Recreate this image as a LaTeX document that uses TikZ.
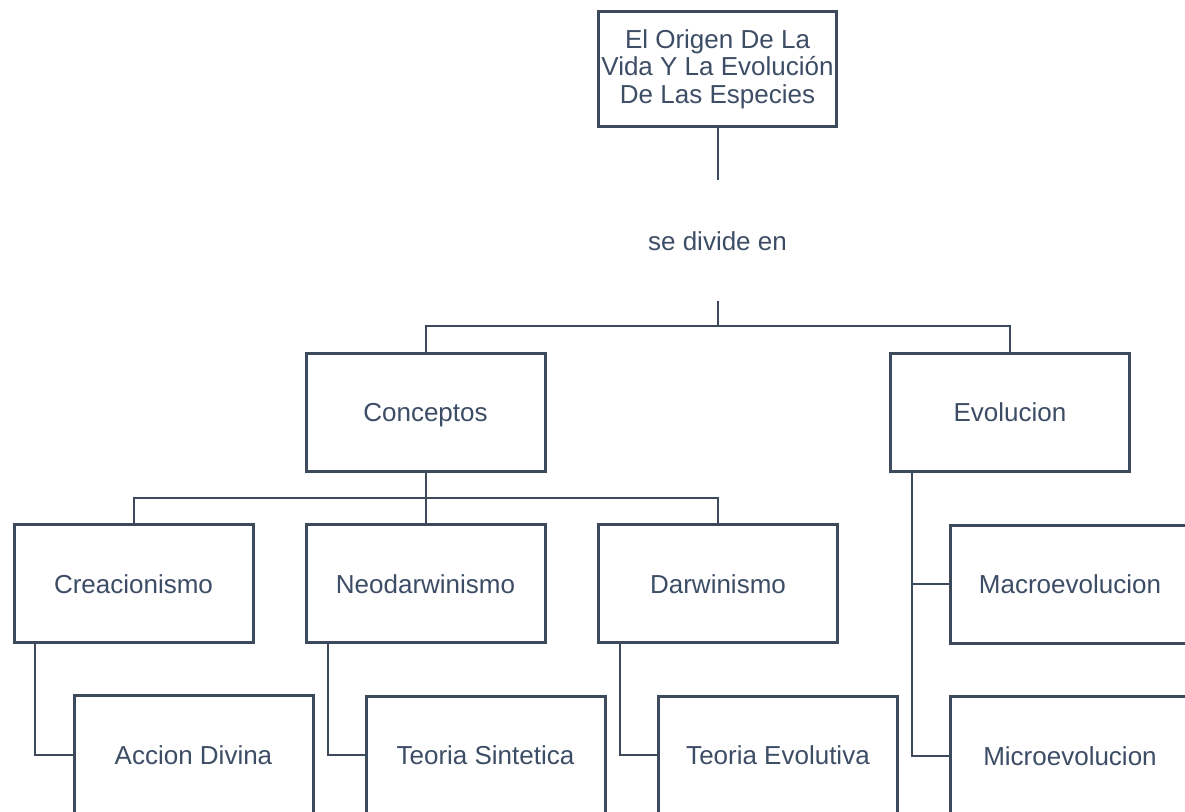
\documentclass[tikz,border=0pt]{standalone}
\usepackage{fontspec}
\setmainfont{Liberation Sans}
\begin{document}
\begin{tikzpicture}[x=1pt,y=-1pt,
  every node/.style={text=txtc},
  box/.style={draw=linec, line width=3pt, fill=white, minimum width=239pt, minimum height=118pt,
    inner sep=0pt, font=\fontsize{26}{28}\selectfont, text height=19pt, text depth=0pt},
  topbox/.style={draw=linec, line width=3pt, fill=white, minimum width=238pt, minimum height=115pt,
    inner sep=0pt, align=center, font=\fontsize{26}{27.5}\selectfont},
  lbl/.style={minimum height=121pt, inner sep=0pt, font=\fontsize{26}{28}\selectfont, text height=19pt, text depth=0pt},
  conn/.style={draw=linec, line width=2pt, line join=miter}
]
\definecolor{linec}{HTML}{3D4A5C}
\definecolor{txtc}{HTML}{3D4D65}
\useasboundingbox (0,0) rectangle (1185,811);
\clip (0,0) rectangle (1185,811);

\node[topbox] (top) at (717.5,69) {El Origen De La\\Vida Y La Evolución\\De Las Especies};
\node[lbl] (lbl) at (717.5,240.5) {se divide en};

\node[box] (conc) at (425.5,412) {Conceptos};
\node[box] (evol) at (1010,412) {Evolucion};

\node[box] (crea) at (133.5,583.5) {Creacionismo};
\node[box] (neo) at (425.5,583.5) {Neodarwinismo};
\node[box] (darw) at (718,583.5) {Darwinismo};
\node[box] (macro) at (1070,584) {Macroevolucion};

\node[box] (acc) at (193.5,754.5) {Accion Divina};
\node[box] (ts) at (485.5,755) {Teoria Sintetica};
\node[box] (te) at (778,755) {Teoria Evolutiva};
\node[box] (micro) at (1070,755.5) {Microevolucion};

\coordinate (b1) at (717.5,326);
\coordinate (b2) at (425.5,498);

\draw[conn] (top) -- (lbl);
\draw[conn] (lbl) -- (b1);
\draw[conn] (conc.north) |- (b1) -| (evol.north);

\draw[conn] (conc.south) -- (neo.north);
\draw[conn] (crea.north) |- (b2) -| (darw.north);

\draw[conn] ([xshift=22.5pt]crea.south west) |- (acc.west);
\draw[conn] ([xshift=23pt]neo.south west) |- (ts.west);
\draw[conn] ([xshift=23pt]darw.south west) |- (te.west);

\coordinate (etap) at ([xshift=23pt]evol.south west);
\draw[conn] (etap) |- (micro.west);
\draw[conn] (macro.west) -- (macro.west -| etap);
\end{tikzpicture}
\end{document}
